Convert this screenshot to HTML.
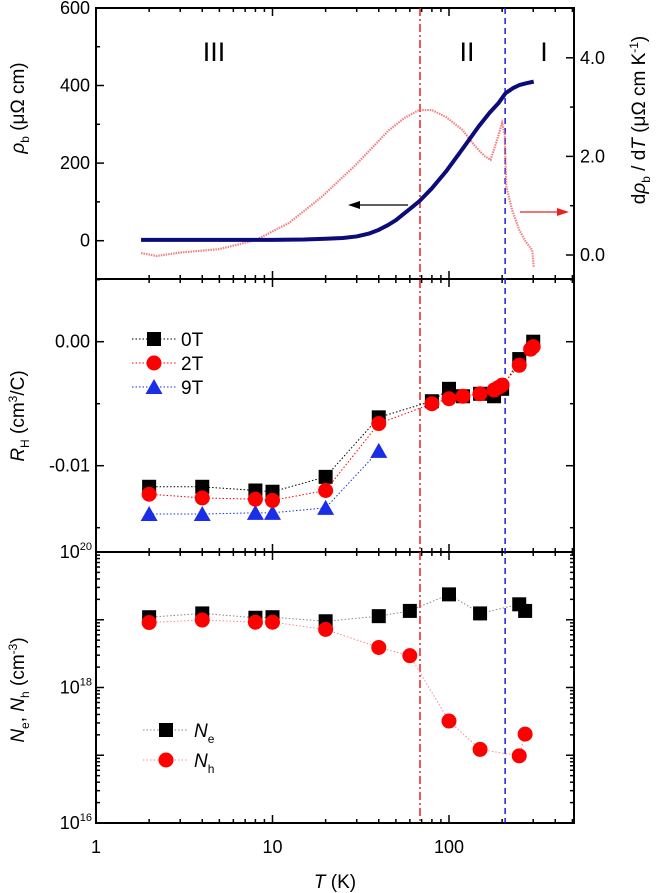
<!DOCTYPE html>
<html><head><meta charset="utf-8"><style>
html,body{margin:0;padding:0;background:#fff}
svg{display:block;font-family:"Liberation Sans",sans-serif}
</style></head><body>
<svg id="chart" width="660" height="893" viewBox="0 0 660 893" xmlns="http://www.w3.org/2000/svg"></svg>
<script>
// ---- data ----
const rhoT = [1.8,10,15,20,25,30,35,40,45,50,56,62,68,80,96,120,147,170,191,209,230,250,275,302];
const rhoV = [2,2,3,5,7,11,18,28,40,53,71,87,102,135,178,238,294,330,355,380,393,401,406,410];
const drT = [1.8,2.2,3,5,8,12.4,19,29.5,45.6,56,67.5,80,96,119,141,160,172,187,200,207,211,228,250,272,296,302];
const drV = [0.04,-0.02,0.05,0.12,0.3,0.65,1.18,1.82,2.53,2.78,2.94,2.94,2.8,2.54,2.2,2.0,1.93,2.33,2.68,2.45,1.39,0.91,0.51,0.27,0.1,-0.24];
const rhT0 = [2,4,8,10,20,40,80,100,120,150,180,200,250,300];
const rh0 = [-0.0117,-0.0117,-0.0120,-0.0121,-0.0109,-0.0061,-0.0048,-0.0038,-0.0044,-0.0042,-0.0044,-0.0038,-0.0014,0.0000];
const rhT2 = [2,4,8,10,20,40,80,100,120,150,180,190,200,250,290,300];
const rh2 = [-0.0123,-0.0126,-0.0127,-0.0128,-0.0120,-0.0066,-0.0050,-0.0046,-0.0044,-0.0042,-0.0039,-0.0037,-0.0035,-0.0019,-0.0006,-0.0004];
const rhT9 = [2,4,8,10,20,40];
const rh9 = [-0.0139,-0.0139,-0.0138,-0.0138,-0.0134,-0.0088];
const nT = [2,4,8,10,20,40,60,100,150,250,270];
const ne = [1.09e19,1.24e19,1.07e19,1.09e19,9.5e18,1.13e19,1.35e19,2.37e19,1.24e19,1.69e19,1.35e19];
const nh = [9.1e18,9.9e18,9.2e18,9.2e18,7.2e18,3.9e18,2.95e18,3.2e17,1.22e17,9.8e16,2.05e17];
const xTickLabels = ["1","10","100"];
const rhoTicks = [0,200,400,600];
const drTicks = ["0.0","2.0","4.0"];
const rhTicks = ["0.00","-0.01"];
const vLineT = [68.5, 208];

// ---- geometry ----
const L=96,R=574,T0=8,B1=279,B2=552,B3=823;
const X = t => L + Math.log10(t)*176.5;
const Yrho = v => 240.7 - v*0.388;
const Ydr = v => 255 - v*49.3;
const Yrh = v => 341.7 - v*12400;
const Yn = v => 823 - (Math.log10(v)-16)*67.75;
const NS="http://www.w3.org/2000/svg";
const svg=document.getElementById('chart');
function el(tag,attrs,parent){const e=document.createElementNS(NS,tag);for(const k in attrs)e.setAttribute(k,attrs[k]);(parent||svg).appendChild(e);return e;}
function txt(s,x,y,size,anchor,parent){const e=el('text',{x:x,y:y,'font-size':size,'text-anchor':anchor||'middle'},parent);e.textContent=s;return e;}

// frames
const frame=el('g',{});


el('rect',{x:L,y:T0,width:R-L,height:B3-T0,fill:'none',stroke:'#000','stroke-width':2},frame);
el('line',{x1:L,y1:B1,x2:R,y2:B1,stroke:'#000','stroke-width':2},frame);
el('line',{x1:L,y1:B2,x2:R,y2:B2,stroke:'#000','stroke-width':2},frame);

const ticks=el('g',{stroke:'#000','stroke-width':1.5});


[T0,B1,B2,B3].forEach(yb=>{
  for(let d=0;d<3;d++){for(let m=1;m<10;m++){const t=m*Math.pow(10,d);if(t>500)break;const x=X(t);const len=m===1?8:4;
    if(yb!==T0) el('line',{x1:x,y1:yb,x2:x,y2:yb-len},ticks);
    if(yb!==B3) el('line',{x1:x,y1:yb,x2:x,y2:yb+len},ticks);}}
});
xTickLabels.forEach((s,i)=>{const e=txt(s,X(Math.pow(10,i)),853,18);

});
const xt=txt('',335,888,19);xt.innerHTML='<tspan font-style="italic">T</tspan> (K)';



[0,100,200,300,400,500,600].forEach(v=>{const y=Yrho(v);const len=v%200===0?8:4;el('line',{x1:L,y1:y,x2:L+len,y2:y},ticks);});
rhoTicks.forEach(v=>{const e=txt(String(v),L-6,Yrho(v)+6,18,'end');

});
[0,1,2,3,4].forEach(v=>{const y=Ydr(v);const len=v%2===0?8:4;el('line',{x1:R,y1:y,x2:R-len,y2:y},ticks);});
drTicks.forEach(s=>{const e=txt(s,R+6,Ydr(parseFloat(s))+6,18,'start');

});
[0.005,0,-0.005,-0.01,-0.015].forEach(v=>{const y=Yrh(v);const len=(Math.round(v*1000)%10===0)?8:4;el('line',{x1:L,y1:y,x2:L+len,y2:y},ticks);el('line',{x1:R,y1:y,x2:R-len,y2:y},ticks);});
rhTicks.forEach(s=>{const e=txt(s,L-6,Yrh(parseFloat(s))+6,18,'end');

});
for(let d=16;d<20;d++){for(let m=1;m<10;m++){const y=Yn(m*Math.pow(10,d));const len=m===1?8:4;el('line',{x1:L,y1:y,x2:L+len,y2:y},ticks);el('line',{x1:R,y1:y,x2:R-len,y2:y},ticks);}}
[16,18,20].forEach(p=>{const e=txt('',L-4,Yn(Math.pow(10,p))+6,18,'end');e.innerHTML='10<tspan font-size="11" dy="-8">'+p+'</tspan>';

});

function vtitle(html,x,y,name){const g=el('g',{transform:'translate('+x+','+y+') rotate(-90)'});const e=txt('',0,0,19,'middle',g);e.innerHTML=html;

}
vtitle('<tspan font-style="italic">ρ</tspan><tspan font-size="12" dy="5">b</tspan><tspan dy="-5"> (μΩ cm)</tspan>',24,108,'rho-axis-title');
vtitle('<tspan font-style="italic">R</tspan><tspan font-size="12" dy="5">H</tspan><tspan dy="-5"> (cm</tspan><tspan font-size="12" dy="-7">3</tspan><tspan dy="7">/C)</tspan>',24,416,'rh-axis-title');
vtitle('<tspan font-style="italic">N</tspan><tspan font-size="12" dy="5">e</tspan><tspan dy="-5">, </tspan><tspan font-style="italic">N</tspan><tspan font-size="12" dy="5">h</tspan><tspan dy="-5"> (cm</tspan><tspan font-size="12" dy="-7">-3</tspan><tspan dy="7">)</tspan>',24,690,'n-axis-title');
vtitle('d<tspan font-style="italic">ρ</tspan><tspan font-size="12" dy="5">b</tspan><tspan dy="-5"> / d</tspan><tspan font-style="italic">T</tspan> (μΩ cm K<tspan font-size="12" dy="-7">-1</tspan><tspan dy="7">)</tspan>',645,120,'drho-axis-title');

const vl1=el('line',{x1:X(vLineT[0]),y1:T0,x2:X(vLineT[0]),y2:B3,stroke:'#e8231f','stroke-width':1.5,'stroke-dasharray':'8 3 2 3'});


const vl2=el('line',{x1:X(vLineT[1]),y1:T0,x2:X(vLineT[1]),y2:B3,stroke:'#1a1ae0','stroke-width':1.5,'stroke-dasharray':'6 4'});



[['III',214,'region-iii-label'],['II',467,'region-ii-label'],['I',544,'region-i-label']].forEach(a=>{const e=txt(a[0],a[1],61,27);

});

const dr=el('polyline',{points:drT.map((t,i)=>X(t)+','+Ydr(drV[i])).join(' '),fill:'none',stroke:'#f06060','stroke-width':2.2,'stroke-dasharray':'1.5 1','opacity':0.8});


const rho=el('polyline',{points:rhoT.map((t,i)=>X(t)+','+Yrho(rhoV[i])).join(' '),fill:'none',stroke:'#0b0b7a','stroke-width':4,'stroke-linejoin':'round'});


const a1=el('g',{});


el('line',{x1:408,y1:205,x2:356,y2:205,stroke:'#000','stroke-width':1.2},a1);
el('polygon',{points:'348,205 360,201 360,209',fill:'#000'},a1);
const a2=el('g',{});


el('line',{x1:520,y1:212,x2:560,y2:212,stroke:'#e8231f','stroke-width':1.2},a2);
el('polygon',{points:'569,212 557,208 557,216',fill:'#e8231f'},a2);

function sq(x,y,c,g){el('rect',{x:x-7,y:y-7,width:14,height:14,fill:c},g);}
function ci(x,y,c,g){el('circle',{cx:x,cy:y,r:7.5,fill:c},g);}
function tr(x,y,c,g){el('polygon',{points:(x)+','+(y-8)+' '+(x-8.5)+','+(y+7)+' '+(x+8.5)+','+(y+7),fill:c},g);}
function series(ts,vs,yf,color,lineColor,shape,name){const g=el('g',{});


el('polyline',{points:ts.map((t,i)=>X(t)+','+yf(vs[i])).join(' '),fill:'none',stroke:lineColor,'stroke-width':1,'stroke-dasharray':'1.5 2'},g);
ts.forEach((t,i)=>shape(X(t),yf(vs[i]),color,g));}
series(rhT9,rh9,Yrh,'#1a2ee8','#1a2ee8',tr,'rh-9t-series');
series(rhT0,rh0,Yrh,'#000','#000',sq,'rh-0t-series');
series(rhT2,rh2,Yrh,'#f00','#f00',ci,'rh-2t-series');
series(nT,ne,Yn,'#000','#888',sq,'ne-series');
series(nT,nh,Yn,'#f00','#f88',ci,'nh-series');

function legend(items,x0,x1,mx,tx,name){const g=el('g',{});


items.forEach(it=>{el('line',{x1:x0,y1:it.y,x2:x1,y2:it.y,stroke:it.lc,'stroke-width':1,'stroke-dasharray':'1.5 2'},g);it.shape(mx,it.y,it.c,g);const e=txt('',tx,it.y+7,19,'start',g);e.innerHTML=it.label;});}
legend([{y:339,c:'#000',lc:'#000',shape:sq,label:'0T'},{y:363,c:'#f00',lc:'#f00',shape:ci,label:'2T'},{y:387,c:'#1a2ee8',lc:'#1a2ee8',shape:tr,label:'9T'}],132,176,154,181,'rh-legend');
legend([{y:730,c:'#000',lc:'#888',shape:sq,label:'<tspan font-style="italic">N</tspan><tspan font-size="12" dy="6">e</tspan>'},{y:760,c:'#f00',lc:'#f88',shape:ci,label:'<tspan font-style="italic">N</tspan><tspan font-size="12" dy="6">h</tspan>'}],143,188,166,194,'n-legend');
</script>
</body></html>
